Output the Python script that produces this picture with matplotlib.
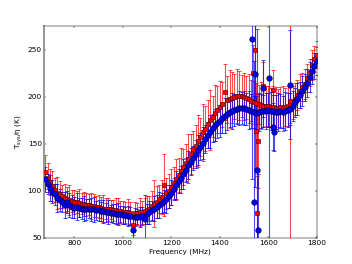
import matplotlib
matplotlib.use('Agg')
import matplotlib.pyplot as plt
import numpy as np

plt.rcParams['mathtext.default'] = 'regular'

# frequency grid (MHz) and the two Tsys/eta series
freq = np.arange(680, 1801, 10)

blue = [112, 107, 103, 99, 96, 92, 90, 88, 85, 88, 85, 83,
        82, 83, 82, 81, 81, 80, 81, 80, 80, 79,
        79, 78, 78, 77, 77, 76, 76, 75, 75, 75,
        74, 74, 73, 73, 58, 72, 72, 72, 73, 70,
        75, 77, 79, 81, 83, 85, 87, 89, 91, 94,
        98, 102, 106, 110, 114, 118, 122, 127, 131, 135,
        139, 143, 147, 151, 155, 159, 163, 167, 170, 172,
        174, 177, 180, 182, 184, 185, 186, 187, 188, 188,
        188, 187, 186, 185, 184, 183, 184, 185, 185, 185,
        186, 185, 185, 184, 184, 185, 184, 185, 186, 187,
        190, 194, 198, 202, 206, 210, 215, 221, 227, 233,
        238]
blue_err = [13, 11, 14, 12, 11, 15, 12, 11, 14, 12, 13, 12,
            11, 14, 10, 11, 13, 11, 10, 12, 13, 10,
            11, 10, 12, 10, 13, 9, 10, 11, 12, 9,
            10, 9, 11, 10, 12, 10, 9, 11, 10, 25,
            11, 12, 10, 13, 12, 14, 11, 12, 15, 12,
            13, 12, 15, 13, 12, 16, 13, 15, 14, 13,
            15, 16, 14, 17, 15, 14, 18, 15, 17, 16,
            17, 16, 19, 17, 16, 19, 17, 16, 18, 17,
            18, 17, 20, 18, 17, 18, 20, 18, 17, 19,
            18, 20, 17, 18, 20, 18, 17, 20, 18, 17,
            16, 15, 17, 14, 16, 14, 15, 16, 13, 14,
            15]

red = [120, 114, 109, 105, 101, 98, 96, 94, 92, 91, 90, 89,
       88, 88, 87, 86, 86, 85, 85, 84, 84, 83,
       83, 82, 81, 81, 80, 80, 79, 79, 78, 78,
       77, 77, 77, 76, 63, 76, 76, 77, 77, 78,
       79, 81, 84, 86, 88, 91, 93, 106, 97, 100,
       104, 108, 112, 117, 121, 125, 130, 134, 139, 144,
       148, 153, 157, 162, 166, 171, 175, 179, 183, 186,
       189, 192, 205, 197, 198, 199, 200, 201, 201, 201,
       200, 199, 198, 196, 194, 193, 192, 191, 190, 190,
       190, 189, 189, 188, 188, 189, 188, 189, 190, 192,
       194, 198, 202, 206, 210, 214, 220, 226, 234, 240,
       245]
red_err = [18, 15, 14, 16, 13, 17, 14, 12, 15, 13, 16, 12,
           13, 12, 15, 11, 13, 12, 11, 14, 12, 11,
           12, 11, 14, 11, 12, 10, 11, 13, 14, 11,
           12, 11, 14, 12, 10, 12, 11, 15, 12, 14,
           15, 13, 16, 25, 17, 15, 18, 33, 16, 18,
           19, 17, 22, 18, 24, 19, 20, 26, 21, 20,
           22, 28, 20, 30, 24, 26, 32, 22, 30, 25,
           28, 24, 30, 25, 31, 27, 24, 29, 26, 22,
           25, 23, 26, 22, 23, 22, 21, 25, 22, 21,
           22, 20, 23, 22, 20, 21, 24, 20, 21, 20,
           18, 17, 16, 18, 15, 16, 15, 14, 16, 14,
           14]

# RFI-affected channels
blue_spike_freq = [1533, 1539, 1544, 1552, 1558, 1577, 1601, 1618, 1623, 1690]
blue_spike = [262, 88, 224, 122, 58, 209, 220, 168, 162, 213]
blue_spike_err = [150, 150, 120, 150, 60, 30, 200, 25, 20, 58]

red_spike_freq = [1535, 1544, 1548, 1552, 1556, 1579, 1618, 1690]
red_spike = [225, 250, 164, 76, 153, 212, 207, 196]
red_spike_err = [30, 60, 40, 40, 50, 25, 22, 150]

fig = plt.figure(figsize=(8, 6), dpi=44)
ax = fig.add_axes([0.125, 0.1, 0.775, 0.8])

def bars(x, y, e, c):
    ax.errorbar(x, y, yerr=e, fmt='none', ecolor=c, alpha=0.7,
                elinewidth=1.8, capsize=3, capthick=1.6, zorder=2)

bars(freq, red, red_err, 'red')
bars(red_spike_freq, red_spike, red_spike_err, 'red')
bars(freq, blue, blue_err, 'blue')
bars(blue_spike_freq, blue_spike, blue_spike_err, 'blue')

ax.plot(freq, red, 's', color='red', mec='#550000', mew=1, ms=7.5, zorder=3)
ax.plot(red_spike_freq, red_spike, 's', color='red', mec='#550000', mew=1, ms=7.5, zorder=3)
ax.plot(freq, blue, 'o', color='blue', mec='#000033', mew=1, ms=9, zorder=4)
ax.plot(blue_spike_freq, blue_spike, 'o', color='blue', mec='#000033', mew=1, ms=9, zorder=4)

ax.set_xlim(675, 1800)
ax.set_ylim(50, 275)
ax.set_xticks([800, 1000, 1200, 1400, 1600, 1800])
ax.set_yticks([50, 100, 150, 200, 250])
ax.tick_params(direction='in', top=True, right=True, labelsize=12, length=4)
ax.spines['left'].set_color('#999999')
ax.spines['left'].set_linewidth(3.3)
ax.set_xlabel('Frequency (MHz)', fontsize=12)
ax.set_ylabel(r'$T_{sys}/\eta$ (K)', fontsize=12)

fig.savefig('out.png', dpi=44)
